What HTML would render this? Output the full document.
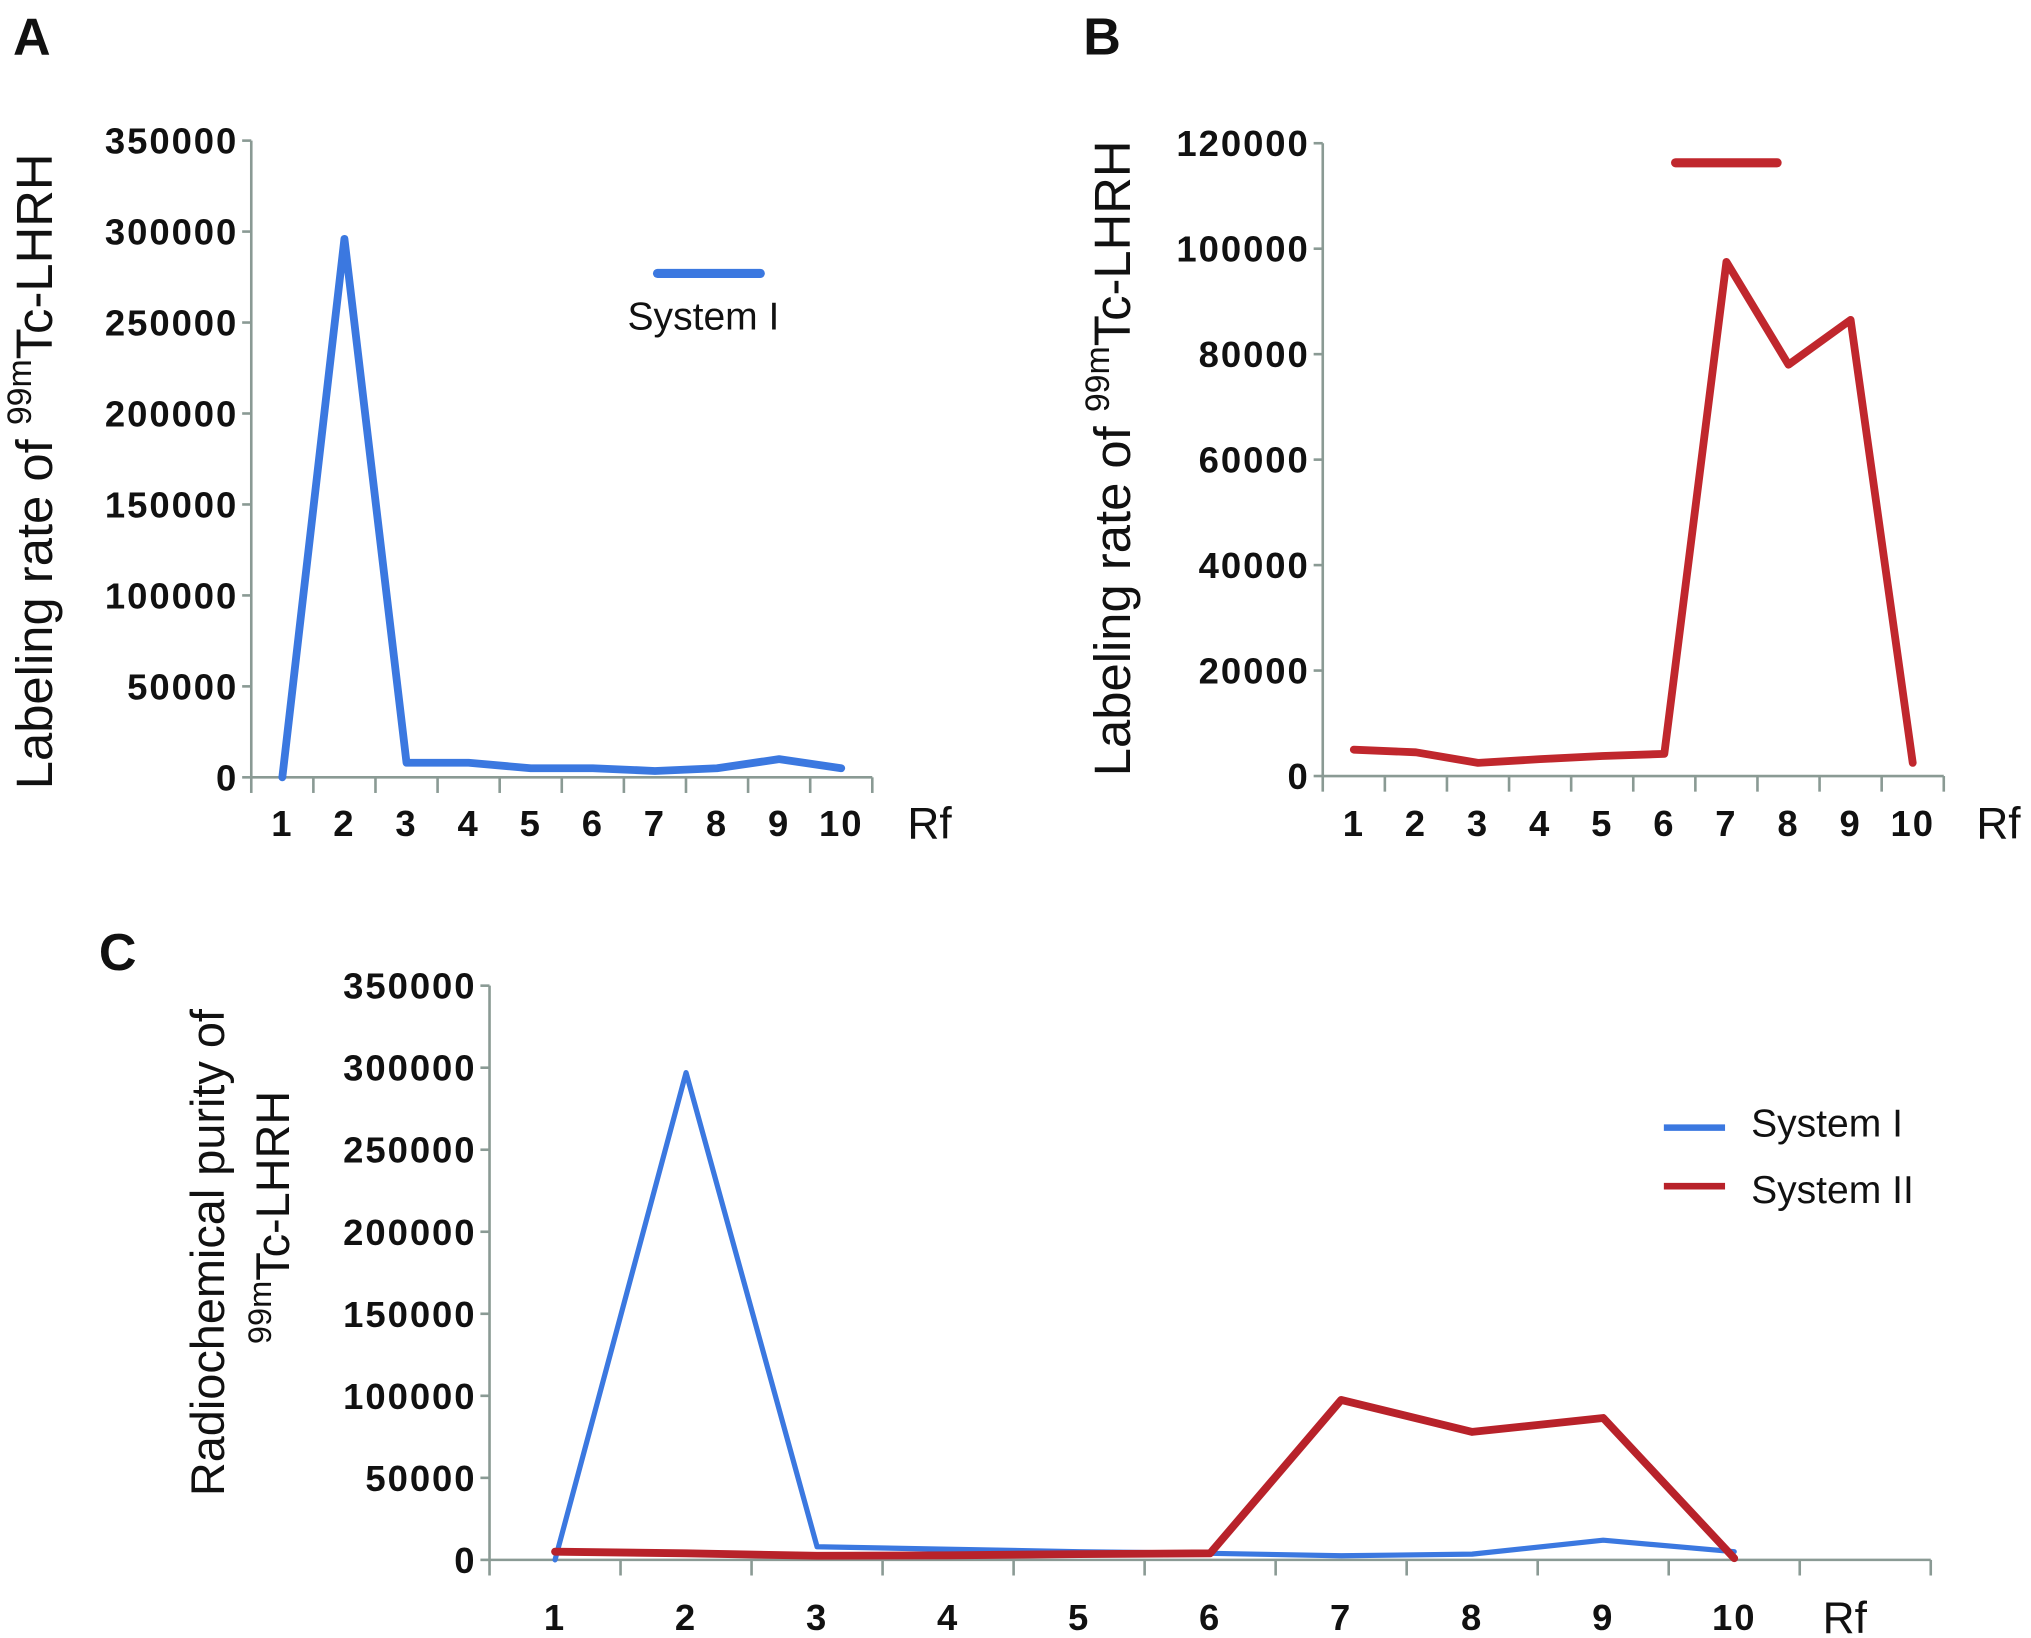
<!DOCTYPE html>
<html><head><meta charset="utf-8"><style>
html,body{margin:0;padding:0;background:#fff}
svg{display:block}
text{font-family:"Liberation Sans",sans-serif;fill:#111}
.tk{font-weight:bold;font-size:28px;letter-spacing:1.5px}
.ttl{font-size:39px}
.ttl2{font-size:36px}
.rf{font-size:34px}
.lt{font-weight:bold;font-size:40px}
</style></head><body>
<svg id="fig" width="2031" height="1638" viewBox="0 0 1560 1258" preserveAspectRatio="none" xmlns="http://www.w3.org/2000/svg">
<text class="lt" x="10" y="42">A</text>
<text class="lt" x="832" y="42">B</text>
<text class="lt" x="76" y="745">C</text>
<text class="ttl" transform="translate(40,362) rotate(-90)" text-anchor="middle">Labeling rate of <tspan font-size="26" dy="-16">99m</tspan><tspan dy="16">Tc-LHRH</tspan></text>
<text class="ttl" transform="translate(868,352) rotate(-90)" text-anchor="middle">Labeling rate of <tspan font-size="26" dy="-16">99m</tspan><tspan dy="16">Tc-LHRH</tspan></text>
<text class="ttl2" transform="translate(172,962) rotate(-90)" text-anchor="middle">Radiochemical purity of</text>
<text class="ttl2" transform="translate(222,935) rotate(-90)" text-anchor="middle"><tspan font-size="25" dy="-14">99m</tspan><tspan dy="14">Tc-LHRH</tspan></text>
<g id="gA"></g><g id="gB"></g><g id="gC"></g>
</svg>
<script>
const categories = [1,2,3,4,5,6,7,8,9,10];
const sysI = [0,296000,8000,8000,5000,5000,3500,5000,10000,5000];
const sysII = [5000,4500,2500,3200,3800,4200,97500,78000,86500,2500];
const sysIc = [0,297000,8000,6500,5000,4000,2500,3500,12000,5000];
const sysIIc = [5000,4000,2500,2800,3500,4000,97500,78000,86500,1000];
const ticksA = [0,50000,100000,150000,200000,250000,300000,350000];
const ticksB = [0,20000,40000,60000,80000,100000,120000];
const ticksC = [0,50000,100000,150000,200000,250000,300000,350000];
const NS='http://www.w3.org/2000/svg';
function mk(g,tag,attrs){const e=document.createElementNS(NS,tag);for(const k in attrs)e.setAttribute(k,attrs[k]);g.appendChild(e);return e;}
function panel(id,cfg){
  const g=document.getElementById(id);
  const {x0,x1,y0,y1,ymax,slots,ticks,series,rfX,lblY,p}=cfg;
  const sw=(x1-x0)/slots;
  const xs=i=>x0+sw*(i-0.5);
  const ys=v=>y0-(v/ymax)*(y0-y1);
  let e=mk(g,'line',{x1:x0,y1:y1,x2:x0,y2:y0+1,stroke:'#8a9a94','stroke-width':2});
  
  
  e=mk(g,'line',{x1:x0,y1:y0,x2:x1,y2:y0,stroke:'#8a9a94','stroke-width':2});
  
  
  ticks.forEach(t=>{
    const y=ys(t);
    let l=mk(g,'line',{x1:x0-7,y1:y,x2:x0,y2:y,stroke:'#8a9a94','stroke-width':2});
    
    
    let tx=mk(g,'text',{x:x0-10,y:y+10,'text-anchor':'end',class:'tk'});
    tx.textContent=t;
    
    
  });
  for(let i=0;i<=slots;i++){
    let l=mk(g,'line',{x1:x0+sw*i,y1:y0,x2:x0+sw*i,y2:y0+12,stroke:'#8a9a94','stroke-width':2});
    
    
  }
  categories.forEach((c,i)=>{
    let tx=mk(g,'text',{x:xs(i+1),y:lblY,'text-anchor':'middle',class:'tk'});
    tx.textContent=c;
    
    
  });
  let rf=mk(g,'text',{x:rfX,y:lblY+2,class:'rf'});
  rf.textContent='Rf';
  
  
  series.forEach(s=>{
    const pts=s.vals.map((v,i)=>xs(i+1)+','+ys(v)).join(' ');
    let pl=mk(g,'polyline',{points:pts,fill:'none',stroke:s.color,'stroke-width':s.w,'stroke-linejoin':'round','stroke-linecap':'round'});
    
    
  });
}
panel('gA',{x0:193,x1:670,y0:597,y1:108,ymax:350000,slots:10,ticks:ticksA,rfX:697,lblY:642,p:'panel-a',
  series:[{vals:sysI,color:'#3b78e0',w:6,name:'system-i'}]});
panel('gB',{x0:1016,x1:1493,y0:596,y1:110,ymax:120000,slots:10,ticks:ticksB,rfX:1518,lblY:642,p:'panel-b',
  series:[{vals:sysII,color:'#c0272d',w:6,name:'system-ii'}]});
panel('gC',{x0:376,x1:1483,y0:1198,y1:757,ymax:350000,slots:11,ticks:ticksC,rfX:1400,lblY:1252,p:'panel-c',
  series:[{vals:sysIc,color:'#3b78e0',w:4,name:'system-i'},{vals:sysIIc,color:'#b8222a',w:6,name:'system-ii'}]});
</script>
<svg style="position:absolute;left:0;top:0" width="2031" height="1638" viewBox="0 0 1560 1258" preserveAspectRatio="none">
<line x1="505" y1="210" x2="584" y2="210" stroke="#3b78e0" stroke-width="7" stroke-linecap="round"/>
<text x="482" y="253" font-size="30" font-family="Liberation Sans, sans-serif">System I</text>
<line x1="1287" y1="125" x2="1365" y2="125" stroke="#c0272d" stroke-width="7" stroke-linecap="round"/>
<line x1="1278" y1="866" x2="1325" y2="866" stroke="#3b78e0" stroke-width="5"/>
<text x="1345" y="873" font-size="30" font-family="Liberation Sans, sans-serif">System I</text>
<line x1="1278" y1="911" x2="1325" y2="911" stroke="#b8222a" stroke-width="5"/>
<text x="1345" y="924" font-size="30" font-family="Liberation Sans, sans-serif">System II</text>
</svg>
</body></html>
